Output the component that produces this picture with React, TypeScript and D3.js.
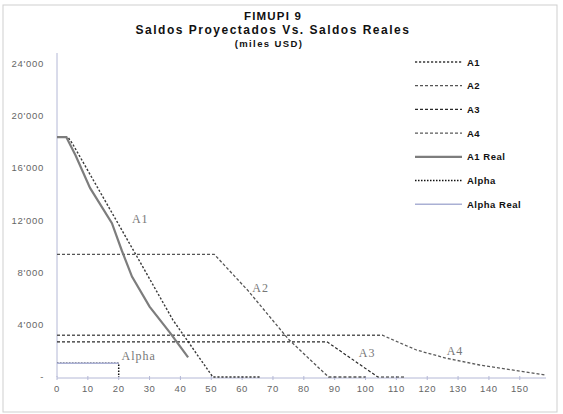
import * as d3 from 'd3';

type Pt = [number, number];

// balances in miles USD by period
const a1Proj: Pt[] = [[0, 18400], [3.5, 18400], [5, 17900], [26, 9200], [37.5, 4400], [50.5, 0], [66, 0]];
const a2Proj: Pt[] = [[0, 9400], [51, 9400], [62, 6600], [75, 2900], [88, 0], [100, 0]];
const a3Proj: Pt[] = [[0, 2700], [87.5, 2700], [104, 0], [113, 0]];
const a4Proj: Pt[] = [[0, 3200], [105.5, 3200], [116.5, 2070], [126, 1450], [137, 920], [147.5, 540], [158.5, 150]];
const a1Real: Pt[] = [[0, 18400], [3, 18400], [6, 17000], [10.7, 14500], [17.8, 11800], [21, 9700], [24.3, 7700], [30, 5400], [36.6, 3400], [42.5, 1500]];
const alphaProj: Pt[] = [[0, 1050], [20, 1050], [20, 0]];
const alphaReal: Pt[] = [[0, 1050], [20, 1050]];

const xTicks = [0, 10, 20, 30, 40, 50, 60, 70, 80, 90, 100, 110, 120, 130, 140, 150];
const yTicks = [0, 4000, 8000, 12000, 16000, 20000, 24000];

const series = [
  { name: 'A1', data: a1Proj, color: '#3a3a3a', dash: '2.2,1.8', width: 1.4 },
  { name: 'A2', data: a2Proj, color: '#555', dash: '3,2', width: 1.3 },
  { name: 'A3', data: a3Proj, color: '#2a2a2a', dash: '3,2', width: 1.2 },
  { name: 'A4', data: a4Proj, color: '#5a5a5a', dash: '3,2', width: 1.3 },
  { name: 'A1 Real', data: a1Real, color: '#7d7d7d', dash: '', width: 2.2 },
  { name: 'Alpha', data: alphaProj, color: '#111', dash: '1.5,1.5', width: 1.5 },
  { name: 'Alpha Real', data: alphaReal, color: '#aab0d4', dash: '', width: 1.4 },
];

// labels written inside the plot
const inLabels: { text: string; at: Pt }[] = [
  { text: 'A1', at: [27, 12000] },
  { text: 'A2', at: [66, 6700] },
  { text: 'A3', at: [100.5, 1770] },
  { text: 'A4', at: [129, 1870] },
  { text: 'Alpha', at: [26.5, 1530] },
];

const fmt = (v: number) => (v === 0 ? '-' : d3.format(',')(v).replace(',', "'"));

export default function App() {
  const x = d3.scaleLinear().domain([0, 158.5]).range([57, 546]);
  const y = d3.scaleLinear().domain([0, 24000]).range([377, 64]);
  const line = d3.line<Pt>().x(d => x(d[0])).y(d => y(d[1]));

  const axisColor = '#b4b8d6';
  const sans = '"Liberation Sans", Arial, sans-serif';

  return (
    <svg width={563} height={414} style={{ position: 'absolute', left: 0, top: 0, background: '#fff' }}>
      <rect x={3} y={5} width={554} height={407} fill="#fff" stroke="#cfcfcf" strokeWidth={1} />

      <g fontFamily={sans} fontWeight="bold" textAnchor="middle" fill="#111">
        <text x={273} y={20} fontSize={11.5} letterSpacing={1.2}>FIMUPI 9</text>
        <text x={273} y={34} fontSize={12} letterSpacing={1.5}>Saldos Proyectados Vs. Saldos Reales</text>
        <text x={269} y={47} fontSize={9.5} letterSpacing={1.4}>(miles USD)</text>
      </g>

      {/* axes */}
      <line x1={x(0)} x2={x(0)} y1={53} y2={y(0)} stroke={axisColor} strokeWidth={1} />
      <line x1={x(0)} x2={x(158.5)} y1={y(0) + 1} y2={y(0) + 1} stroke={axisColor} strokeWidth={1} />
      {xTicks.map(t => (
        <g key={'x' + t}>
          <line x1={x(t)} x2={x(t)} y1={y(0) - 1} y2={y(0) + 3} stroke={axisColor} />
          <text x={x(t)} y={392} fontSize={9.5} fontFamily={sans} textAnchor="middle" fill="#666" letterSpacing={0.6}>{t}</text>
        </g>
      ))}
      {yTicks.map(t => (
        <text key={'y' + t} x={44} y={y(t) + 3} fontSize={9.5} fontFamily={sans} textAnchor="end" fill="#666" letterSpacing={0.7}>{fmt(t)}</text>
      ))}

      {/* series */}
      {series.map(s => (
        <path key={s.name} d={line(s.data) ?? ''} fill="none" stroke={s.color}
          strokeWidth={s.width} strokeDasharray={s.dash || undefined} />
      ))}

      {inLabels.map(l => (
        <text key={l.text} x={x(l.at[0])} y={y(l.at[1])} fontSize={12} letterSpacing={1}
          fontFamily='"Liberation Serif", "Times New Roman", serif' fill="#777" textAnchor="middle"
          dominantBaseline="middle">{l.text}</text>
      ))}

      {/* legend */}
      {series.map((s, i) => {
        const ly = 62 + i * 23.7;
        return (
          <g key={'lg' + s.name}>
            <line x1={415} x2={462} y1={ly} y2={ly} stroke={s.color} strokeWidth={s.width}
              strokeDasharray={s.dash || undefined} />
            <text x={467} y={ly + 3.5} fontSize={9.5} fontFamily={sans} fontWeight="bold" fill="#111" letterSpacing={0.5}>{s.name}</text>
          </g>
        );
      })}
    </svg>
  );
}
